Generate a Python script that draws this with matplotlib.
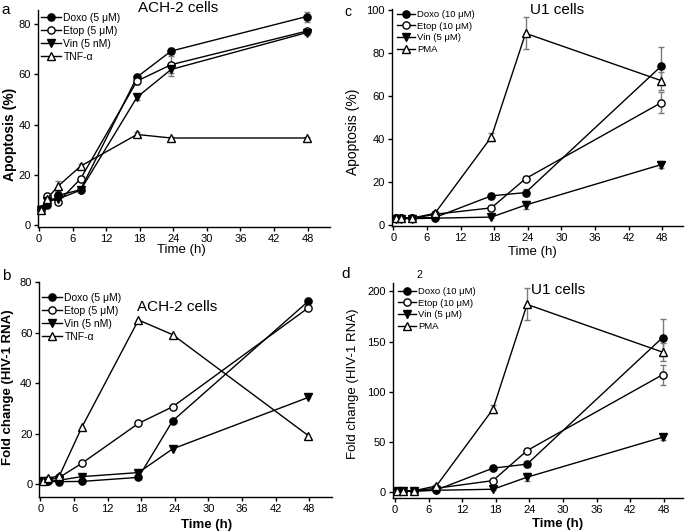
import matplotlib
matplotlib.use("Agg")
import matplotlib.pyplot as plt
from matplotlib.lines import Line2D

plt.rcParams['font.family'] = ['Liberation Sans', 'DejaVu Sans']

W, H = 685, 532

# ---------------- data ----------------
time_h = [0.4, 1.4, 3.4, 7.4, 17.5, 23.6, 47.8]
x_ticks = [0, 6, 12, 18, 24, 30, 36, 42, 48]

# panel a: ACH-2 apoptosis (%)
a_doxo = [6.2, 8.3, 11.9, 14.2, 58.9, 69.2, 82.9]
a_doxo_err = [0.5, 0.5, 1.0, 1.0, 1.0, 1.2, 2.0]
a_etop = [6.5, 11.5, 9.3, 18.5, 57.3, 63.8, 77.1]
a_etop_err = [0.5, 0.8, 0.8, 1.0, 1.0, 3.5, 1.0]
a_vin = [6.0, 9.8, 10.5, 14.0, 50.9, 61.9, 76.5]
a_vin_err = [0.5, 0.5, 0.8, 0.8, 1.0, 2.5, 1.0]
a_tnf = [6.0, 10.6, 15.6, 23.5, 36.1, 34.7, 34.7]
a_tnf_err = [0.5, 0.8, 2.0, 1.0, 1.0, 0.5, 0.5]

# panel b: ACH-2 fold change (HIV-1 RNA)
b_doxo = [1.0, 1.0, 0.9, 1.0, 2.6, 25.0, 72.4]
b_etop = [1.0, 1.5, 2.6, 8.2, 24.0, 30.6, 69.8]
b_vin = [1.0, 1.0, 1.5, 2.9, 4.5, 13.9, 34.3]
b_tnf = [1.2, 2.2, 3.3, 22.5, 65.0, 59.2, 19.2]

# panel c: U1 apoptosis (%)
c_doxo = [3.2, 3.4, 3.3, 3.5, 13.6, 15.1, 73.9]
c_doxo_err = [0.3, 0.3, 0.3, 0.3, 1.5, 1.5, 8.7]
c_etop = [3.2, 3.4, 3.1, 5.0, 8.0, 21.6, 56.9]
c_etop_err = [0.3, 0.3, 0.3, 0.5, 0.8, 1.0, 5.0]
c_vin = [3.0, 3.0, 3.0, 3.2, 3.7, 9.3, 28.1]
c_vin_err = [0.3, 0.3, 0.3, 0.3, 0.5, 2.0, 1.5]
c_pma = [3.3, 3.3, 3.3, 5.4, 41.0, 89.2, 67.2]
c_pma_err = [0.3, 0.3, 0.3, 0.5, 2.0, 7.5, 4.2]

# panel d: U1 fold change (HIV-1 RNA)
d_doxo = [1.0, 1.0, 1.5, 2.3, 24.0, 28.0, 154.0]
d_doxo_err = [0.5, 0.5, 0.5, 0.5, 2.0, 3.0, 18.0]
d_etop = [1.5, 1.5, 1.5, 4.0, 11.6, 41.5, 117.0]
d_etop_err = [0.5, 0.5, 0.5, 0.5, 1.0, 2.0, 10.0]
d_vin = [1.0, 1.0, 1.0, 2.0, 3.0, 15.0, 54.8]
d_vin_err = [0.5, 0.5, 0.5, 0.5, 0.5, 4.0, 3.0]
d_pma = [1.5, 1.5, 1.5, 6.3, 82.7, 187.0, 139.5]
d_pma_err = [0.5, 0.5, 0.5, 1.0, 4.0, 16.0, 9.0]

ach_labels = ['Doxo (5 μM)', 'Etop (5 μM)', 'Vin (5 nM)', 'TNF-α']
u1_labels = ['Doxo (10 μM)', 'Etop (10 μM)', 'Vin (5 μM)', 'PMA']

styles = [dict(marker='o', mfc='black'),
          dict(marker='o', mfc='white'),
          dict(marker='v', mfc='black'),
          dict(marker='^', mfc='white')]

fig = plt.figure(figsize=(W / 100, H / 100), dpi=100)


def px_axes(left, top, right, bottom):
    return fig.add_axes([left / W, 1 - bottom / H, (right - left) / W, (bottom - top) / H])


def draw(ax, series, errs, labels, xlim, ylim, yticks, leg_xy, leg_fs):
    for i, (ys, lab) in enumerate(zip(series, labels)):
        st = styles[i]
        if errs is not None and errs[i] is not None:
            ax.errorbar(time_h, ys, yerr=errs[i], fmt='none', ecolor='#7a7a7a',
                        elinewidth=1.0, capsize=2.5, capthick=1.0, zorder=1)
        ax.plot(time_h, ys, color='black', lw=1.0, marker=st['marker'],
                mfc=st['mfc'], mec='black', mew=1.0, ms=5.2, zorder=3 + i,
                label=lab, clip_on=False)
    ax.set_xlim(*xlim)
    ax.set_ylim(*ylim)
    ax.set_xticks(x_ticks)
    ax.set_yticks(yticks)
    for s in ['top', 'right']:
        ax.spines[s].set_visible(False)
    for s in ['left', 'bottom']:
        ax.spines[s].set_linewidth(1.0)
    ax.tick_params(direction='out', length=3, width=1.0, labelsize=8, pad=2)
    handles = [Line2D([], [], color='black', lw=1.0, marker=styles[i]['marker'],
                      mfc=styles[i]['mfc'], mec='black', ms=5.2)
               for i in range(4)]
    ax.legend(handles, labels, loc='upper left',
              bbox_to_anchor=(leg_xy[0] / W, 1 - leg_xy[1] / H),
              bbox_transform=fig.transFigure, frameon=False, fontsize=leg_fs,
              handlelength=1.9, handletextpad=0.25, labelspacing=0.28,
              borderpad=0, borderaxespad=0)


ax_a = px_axes(38, 10, 330, 226.7)
draw(ax_a, [a_doxo, a_etop, a_vin, a_tnf], [a_doxo_err, a_etop_err, a_vin_err, a_tnf_err],
     ach_labels, (-0.2, 52), (-0.5, 85.5), [0, 20, 40, 60, 80], (41, 13), 7.5)

ax_c = px_axes(391.7, 9, 683, 225.7)
draw(ax_c, [c_doxo, c_etop, c_vin, c_pma], [c_doxo_err, c_etop_err, c_vin_err, c_pma_err],
     u1_labels, (-0.3, 51.7), (-0.3, 100.5), [0, 20, 40, 60, 80, 100], (397, 10), 6.8)

ax_b = px_axes(39.3, 281.7, 331.7, 497.3)
draw(ax_b, [b_doxo, b_etop, b_vin, b_tnf], None,
     ach_labels, (-0.2, 52), (-5.3, 80.2), [0, 20, 40, 60, 80], (42, 293), 7.5)

ax_d = px_axes(392.7, 283.3, 683.3, 498.3)
draw(ax_d, [d_doxo, d_etop, d_vin, d_pma], [d_doxo_err, d_etop_err, d_vin_err, d_pma_err],
     u1_labels, (-0.4, 51.5), (-6, 208), [0, 50, 100, 150, 200], (398, 287), 6.8)


def ftext(x, y, s, **kw):
    fig.text(x / W, 1 - y / H, s, ha='center', va='center', **kw)


# panel letters
ftext(6, 10, 'a', fontsize=11)
ftext(348, 12, 'c', fontsize=10)
ftext(6, 276, 'b', fontsize=11)
ftext(346, 274, 'd', fontsize=11)
ftext(419, 275, '2', fontsize=7.5)

# titles
ftext(178, 8, 'ACH-2 cells', fontsize=11)
ftext(557, 10, 'U1 cells', fontsize=11)
ftext(177, 307, 'ACH-2 cells', fontsize=11)
ftext(558, 290, 'U1 cells', fontsize=11)

# x labels
ftext(181, 250, 'Time (h)', fontsize=9.5)
ftext(532, 252, 'Time (h)', fontsize=9.5)
ftext(207, 525, 'Time (h)', fontsize=9.5, fontweight='bold')
ftext(558, 524, 'Time (h)', fontsize=9.5, fontweight='bold')

# y labels
ftext(10, 134, 'Apoptosis (%)', fontsize=10, fontweight='bold', rotation=90)
ftext(353, 132, 'Apoptosis (%)', fontsize=10, rotation=90)
ftext(8, 387, 'Fold change (HIV-1 RNA)', fontsize=9.5, fontweight='bold', rotation=90)
ftext(353, 384, 'Fold change (HIV-1 RNA)', fontsize=9.5, rotation=90)

fig.savefig('out.png', dpi=100)
